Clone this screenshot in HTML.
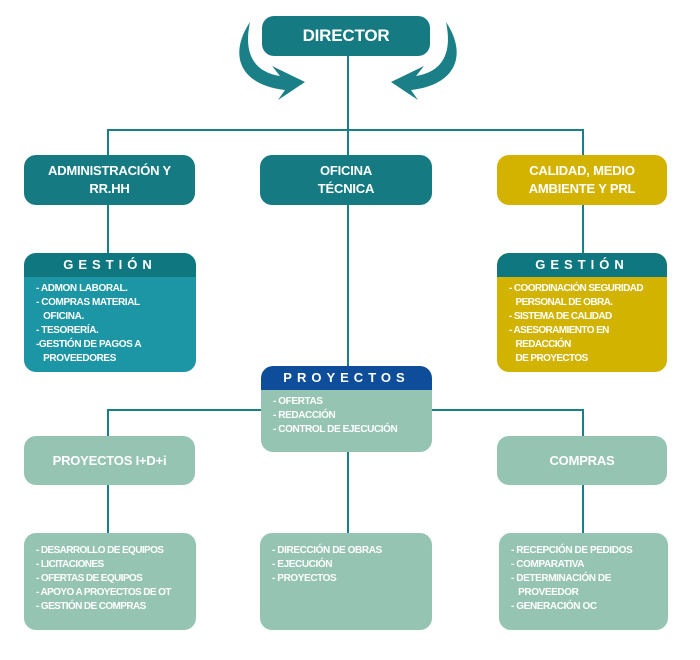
<!DOCTYPE html>
<html><head><meta charset="utf-8"><style>
body{margin:0;width:700px;height:660px;background:#fff;position:relative;overflow:hidden;font-family:"Liberation Sans",sans-serif;font-weight:bold;color:#fff}
.b{position:absolute;border-radius:12px;box-sizing:border-box;overflow:hidden}
.t{display:flex;align-items:center;justify-content:center;text-align:center;font-size:13px;line-height:18px;letter-spacing:-0.2px}
.l{position:absolute;background:#1a7f86}
.h{height:24px;border-radius:12px 12px 0 0;text-align:center;font-size:13px;letter-spacing:5px;line-height:24px}
.txt{font-size:10px;line-height:14px;padding:5px 0 0 12px;white-space:pre;letter-spacing:-0.4px}
</style></head><body>
<svg style="position:absolute;left:0;top:0" width="700" height="660">
<path d="M250 22 C228 55 240 85 285 90 L278 100 L305 82 L272 66 L280 76 C255 72 243 55 250 22Z" fill="#1a7f86"/>
<path d="M446 22 C468 55 456 85 411 90 L418 100 L391 82 L424 66 L416 76 C441 72 453 55 446 22Z" fill="#1a7f86"/>
</svg>
<div class="l" style="left:347px;top:56px;width:2px;height:310px"></div>
<div class="l" style="left:108px;top:129px;width:476px;height:2px"></div>
<div class="l" style="left:107px;top:129px;width:2px;height:124px"></div>
<div class="l" style="left:582px;top:129px;width:2px;height:124px"></div>
<div class="l" style="left:108px;top:409px;width:476px;height:2px"></div>
<div class="l" style="left:107px;top:409px;width:2px;height:124px"></div>
<div class="l" style="left:582px;top:409px;width:2px;height:124px"></div>
<div class="l" style="left:347px;top:450px;width:2px;height:84px"></div>

<div class="b t" style="left:262px;top:16px;width:168px;height:40px;background:#157a82;font-size:17px">DIRECTOR</div>
<div class="b t" style="left:24px;top:155px;width:171px;height:50px;background:#157a82">ADMINISTRACIÓN Y<br>RR.HH</div>
<div class="b t" style="left:260px;top:155px;width:172px;height:50px;background:#157a82">OFICINA<br>TÉCNICA</div>
<div class="b t" style="left:497px;top:155px;width:170px;height:50px;background:#d4b300">CALIDAD, MEDIO<br>AMBIENTE Y PRL</div>

<div class="b" style="left:24px;top:253px;width:172px;height:119px;background:#1c95a4"><div class="h" style="background:#0e7780">GESTIÓN</div><div class="txt">- ADMON LABORAL.
- COMPRAS MATERIAL
   OFICINA.
- TESORERÍA.
-GESTIÓN DE PAGOS A
   PROVEEDORES</div></div>
<div class="b" style="left:497px;top:253px;width:170px;height:119px;background:#d2b300"><div class="h" style="background:#0e7780">GESTIÓN</div><div class="txt" style="letter-spacing:-0.6px">- COORDINACIÓN SEGURIDAD
   PERSONAL DE OBRA.
- SISTEMA DE CALIDAD
- ASESORAMIENTO EN
   REDACCIÓN
   DE PROYECTOS</div></div>
<div class="b" style="left:261px;top:366px;width:171px;height:86px;background:#96c4b3"><div class="h" style="background:#0e4d9a">PROYECTOS</div><div class="txt">- OFERTAS
- REDACCIÓN
- CONTROL DE EJECUCIÓN</div></div>

<div class="b t" style="left:24px;top:436px;width:171px;height:49px;background:#96c4b3">PROYECTOS I+D+i</div>
<div class="b t" style="left:497px;top:436px;width:170px;height:49px;background:#96c4b3">COMPRAS</div>

<div class="b" style="left:24px;top:533px;width:172px;height:97px;background:#96c4b3"><div class="txt" style="padding-top:11px;letter-spacing:-0.6px">- DESARROLLO DE EQUIPOS
- LICITACIONES
- OFERTAS DE EQUIPOS
- APOYO A PROYECTOS DE OT
- GESTIÓN DE COMPRAS</div></div>
<div class="b" style="left:260px;top:533px;width:172px;height:97px;background:#96c4b3"><div class="txt" style="padding-top:11px">- DIRECCIÓN DE OBRAS
- EJECUCIÓN
- PROYECTOS</div></div>
<div class="b" style="left:499px;top:533px;width:169px;height:97px;background:#96c4b3"><div class="txt" style="padding-top:11px">- RECEPCIÓN DE PEDIDOS
- COMPARATIVA
- DETERMINACIÓN DE
   PROVEEDOR
- GENERACIÓN OC</div></div>
</body></html>
